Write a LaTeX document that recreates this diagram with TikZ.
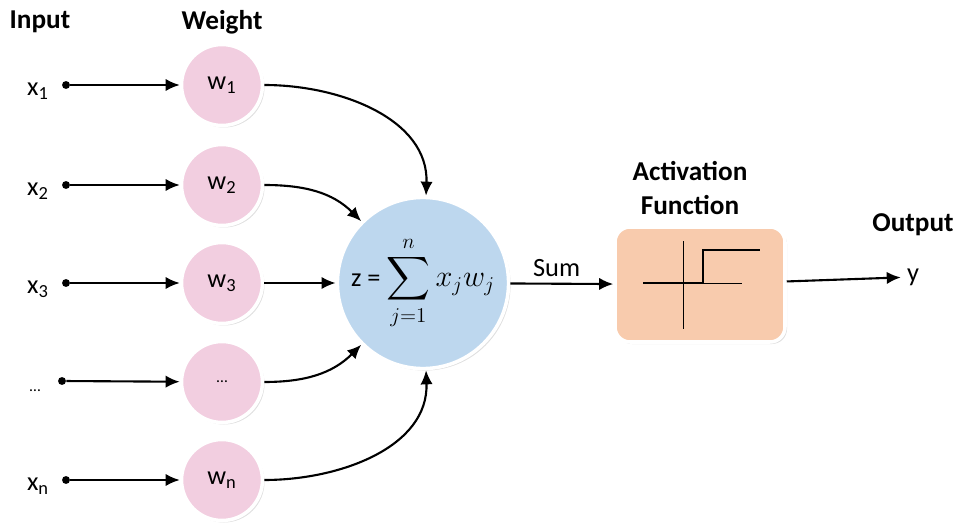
\documentclass[tikz,border=0pt]{standalone}
\usepackage{fontspec}
\setmainfont{Carlito}
\usepackage{amsmath}
\usetikzlibrary{arrows, arrows.meta}
\usetikzlibrary{shapes, shadows}

\definecolor{wpink}{HTML}{F2CEE0}
\definecolor{sumblue}{HTML}{BDD7EE}
\definecolor{actpeach}{HTML}{F8CBAD}

\tikzset{
  weight/.style={circle, draw=white, line width=2pt, fill=wpink, minimum size=1.62cm,
    drop shadow={opacity=0.25, shadow xshift=0.04cm, shadow yshift=-0.04cm}},
  indot/.style={circle, fill=black, inner sep=0pt, minimum size=4.5pt},
  head/.style={font=\fontsize{15.5}{19}\selectfont\bfseries},
  wire/.style={->, line width=1.2pt},
}

\begin{document}
\begin{tikzpicture}[every node/.style={font=\fontsize{15}{18}\selectfont}, >={Latex[length=8pt, width=7pt]}]
\useasboundingbox (0,0) rectangle (19.24,10.44);

% headings
\node[head] (hin) at (0.8,10.0) {Input};
\node[head] (hw) at (4.44,10.0) {Weight};
\node[head, align=center] (hact) at (13.8,6.68) {Activation\\Function};
\node[head] (hout) at (18.26,5.94) {Output};

% inputs
\node[indot] (d1) at (1.32,8.74) {};
\node[indot] (d2) at (1.32,6.74) {};
\node[indot] (d3) at (1.32,4.78) {};
\node[indot] (d4) at (1.24,2.82) {};
\node[indot] (dn) at (1.32,0.84) {};
\node (x1) at (0.76,8.62) {x\textsubscript{1}};
\node (x2) at (0.76,6.62) {x\textsubscript{2}};
\node (x3) at (0.76,4.66) {x\textsubscript{3}};
\node (x4) at (0.70,2.62) {\small\dots};
\node (xn) at (0.76,0.72) {x\textsubscript{n}};

% weights
\node[weight] (w1) at (4.44,8.74) {w\textsubscript{1}};
\node[weight] (w2) at (4.44,6.74) {w\textsubscript{2}};
\node[weight] (w3) at (4.44,4.78) {w\textsubscript{3}};
\node[weight] (w4) at (4.44,2.80) {\small\dots};
\node[weight] (wn) at (4.44,0.84) {w\textsubscript{n}};

% sum and activation
\node[circle, draw=white, line width=2pt, fill=sumblue, minimum size=3.2cm, inner sep=0pt,
  drop shadow={opacity=0.25, shadow xshift=0.04cm, shadow yshift=-0.04cm}] (sum) at (8.46,4.78)
  {z = \fontsize{17}{20}\selectfont$\displaystyle\sum_{j=1}^{n} x_j w_j$};
\node[rectangle, rounded corners=0.3cm, draw=white, line width=2pt, fill=actpeach,
  minimum width=3.4cm, minimum height=2.3cm,
  drop shadow={opacity=0.25, shadow xshift=0.04cm, shadow yshift=-0.04cm}] (act) at (14.0,4.75) {};
\node (y) at (18.26,4.9) {y};

\draw[wire] (d1) to (w1);
\draw[wire] (d2) to (w2);
\draw[wire] (d3) to (w3);
\draw[wire] (d4) to (w4);
\draw[wire] (dn) to (wn);

\draw[wire] (w1) to [out=0, in=88] (sum);
\draw[wire] (w2) to [out=0, in=135] (sum);
\draw[wire] (w3) to (sum);
\draw[wire] (w4) to [out=0, in=225] (sum);
\draw[wire] (wn) to [out=0, in=-88] (sum);

\draw[wire] (sum) to node[above, pos=0.45] {Sum} (act);
\draw[wire] (act) to (y);

% step function
\draw[thin] ([xshift=-1.14cm]act.center |- sum) -- ++(1.98,0);
\draw[thin] ([xshift=-0.34cm, yshift=0.86cm]act.center) -- ++(0,-1.74);
\draw[line width=1.3pt] ([xshift=-1.14cm]act.center |- sum) -- ++(1.2,0) -- ++(0,0.66) -- ++(1.14,0);
\end{tikzpicture}
\end{document}
